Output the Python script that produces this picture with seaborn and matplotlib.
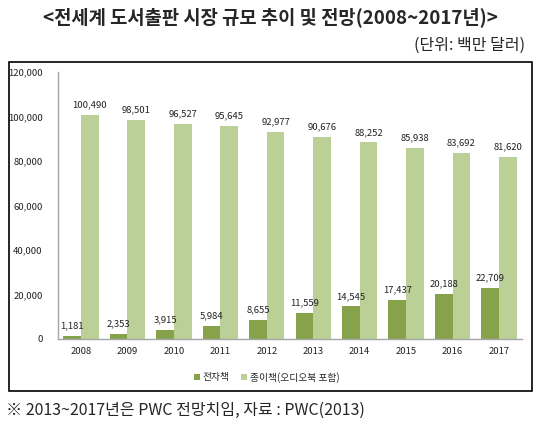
import matplotlib
matplotlib.use("Agg")
import pandas as pd
import seaborn as sns
from matplotlib import pyplot as plt
from matplotlib.patches import Rectangle

# 데이터
years = ["2008", "2009", "2010", "2011", "2012", "2013", "2014", "2015", "2016", "2017"]
ebook = [1181, 2353, 3915, 5984, 8655, 11559, 14545, 17437, 20188, 22709]
paper = [100490, 98501, 96527, 95645, 92977, 90676, 88252, 85938, 83692, 81620]
series_names = ["전자책", "종이책(오디오북 포함)"]
yticks = [0, 20000, 40000, 60000, 80000, 100000, 120000]

df = pd.DataFrame({
    "year": years * 2,
    "value": ebook + paper,
    "type": [series_names[0]] * len(years) + [series_names[1]] * len(years),
})

sns.set_style("white")
plt.rcParams["font.family"] = ["Noto Sans CJK KR", "DejaVu Sans"]

fig = plt.figure(figsize=(5.4, 4.3), dpi=100)
ax = fig.add_axes([0.107, 0.212, 0.860, 0.621])

sns.barplot(data=df, x="year", y="value", hue="type",
            palette=["#86A34C", "#BBD097"], width=0.76, ax=ax,
            saturation=1, linewidth=0, legend=True)

for cont in ax.containers:
    ax.bar_label(cont, labels=[f"{v:,.0f}" for v in cont.datavalues],
                 padding=4, fontsize=6.8, color="#222222")

ax.set_ylim(0, 120000)
ax.set_yticks(yticks)
ax.set_yticklabels([f"{v:,}" for v in yticks])
ax.set_xlabel("")
ax.set_ylabel("")
ax.tick_params(axis="both", length=0, labelsize=6.8, colors="#222222")
ax.tick_params(axis="y", pad=11)
ax.tick_params(axis="x", pad=6)
for s in ["top", "right"]:
    ax.spines[s].set_visible(False)
for s in ["left", "bottom"]:
    ax.spines[s].set_color("#A6A6A6")
    ax.spines[s].set_linewidth(1.0)

leg = ax.legend(loc="upper center", bbox_to_anchor=(0.45, -0.09), ncol=2,
                frameon=False, fontsize=7, handlelength=0.6, handleheight=0.6,
                handletextpad=0.3, columnspacing=1.2)

# 바깥 테두리
fig.patches.append(Rectangle((9 / 540, 1 - 391 / 430), 523 / 540, 329 / 430,
                             transform=fig.transFigure, fill=False,
                             edgecolor="black", linewidth=1.2))

fig.text(0.5, 1 - 17 / 430, "<전세계 도서출판 시장 규모 추이 및 전망(2008~2017년)>",
         ha="center", va="center", fontsize=13.5, fontweight="bold")
fig.text(525 / 540, 1 - 45 / 430, "(단위: 백만 달러)", ha="right", va="center",
         fontsize=11.5)
fig.text(6 / 540, 1 - 410 / 430, "※ 2013~2017년은 PWC 전망치임, 자료 : PWC(2013)",
         ha="left", va="center", fontsize=11.5)

fig.savefig("out.png", dpi=100)
